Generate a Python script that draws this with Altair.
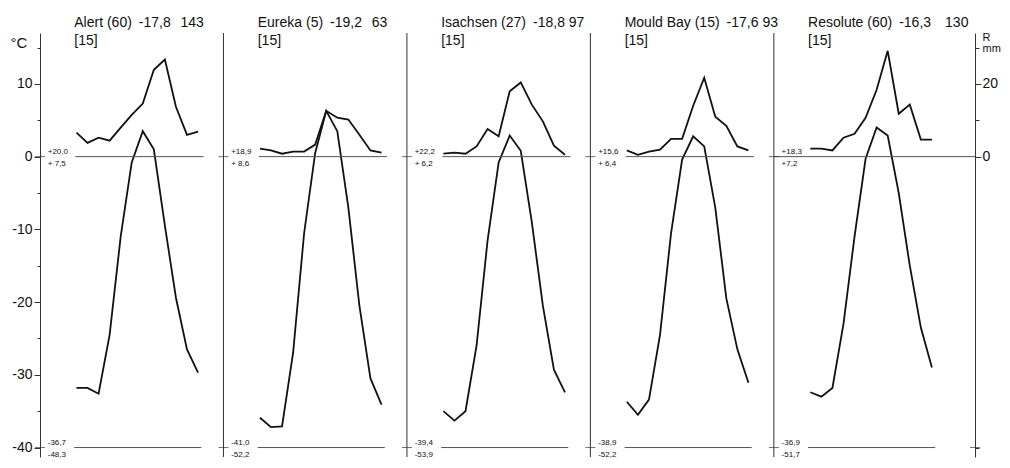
import altair as alt
import pandas as pd

# ---------------- data ----------------
stations = ["Alert", "Eureka", "Isachsen", "Mould Bay", "Resolute"]
title_line1 = [
    "Alert (60)\u2002-17,8\u2002\u2009143",
    "Eureka (5)\u2002-19,2\u2002\u200963",
    "Isachsen (27)\u2002-18,8 97",
    "Mould Bay (15)\u2002-17,6 93",
    "Resolute (60)\u2002-16,3\u2002\u2002130",
]
title_line2 = ["[15]", "[15]", "[15]", "[15]", "[15]"]

# monthly mean temperature (°C), Jan..Dec
temp_alert = [-31.8, -31.8, -32.6, -24.5, -11.0, -0.8, 3.5, 1.0, -9.5, -19.4, -26.5, -29.7]
temp_eureka = [-35.9, -37.2, -37.1, -27.0, -10.5, 0.5, 6.3, 3.5, -7.0, -20.5, -30.5, -34.1]
temp_isachsen = [-35.0, -36.3, -35.0, -26.0, -11.5, -0.8, 2.9, 0.8, -9.0, -20.5, -29.3, -32.4]
temp_mould = [-33.7, -35.5, -33.4, -24.5, -10.5, -0.4, 2.8, 1.4, -7.0, -19.5, -26.5, -31.1]
temp_resolute = [-32.4, -33.0, -31.8, -23.0, -11.0, -0.3, 4.0, 2.9, -5.0, -15.0, -23.5, -29.0]

# monthly precipitation (mm), Jan..Dec
prec_alert = [6.6, 3.8, 5.2, 4.4, 8.0, 11.5, 14.6, 23.9, 26.7, 13.7, 6.0, 6.9]
prec_eureka = [2.2, 1.7, 0.8, 1.4, 1.4, 3.3, 12.6, 10.7, 10.2, 6.0, 1.7, 1.1]
prec_isachsen = [0.8, 1.1, 0.8, 2.8, 7.6, 5.6, 18.0, 20.4, 14.3, 9.7, 3.0, 0.5]
prec_mould = [1.7, 0.5, 1.4, 1.9, 4.9, 4.9, 14.0, 21.7, 11.0, 8.5, 2.8, 1.7]
prec_resolute = [2.2, 2.2, 1.7, 5.2, 6.3, 10.7, 18.4, 29.1, 11.8, 14.3, 4.7, 4.7]

zero_top = ["+20,0", "+18,9", "+22,2", "+15,6", "+18,3"]
zero_bot = ["+ 7,5", "+ 8,6", "+ 6,2", "+ 6,4", "+7,2"]
low_top = ["-36,7", "-41,0", "-39,4", "-38,9", "-36,9"]
low_bot = ["-48,3", "-52,2", "-53,9", "-52,2", "-51,7"]

temps = [temp_alert, temp_eureka, temp_isachsen, temp_mould, temp_resolute]
precs = [prec_alert, prec_eureka, prec_isachsen, prec_mould, prec_resolute]

# ---------------- layout constants ----------------
PANEL = 16.6      # panel width in month units
FIRST = 3.3       # offset of January from panel's left edge
XMAX = 84.6
YMIN, YMAX = -41.3, 17.0
W, H = 935, 424
FONT = "Liberation Sans"
INK = "#111111"
AX = "#333333"

rows = []
for i, st in enumerate(stations):
    for m in range(12):
        x = i * PANEL + FIRST + m
        rows.append(dict(sid=st + "-T", x=x, y=temps[i][m]))
        rows.append(dict(sid=st + "-P", x=x, y=precs[i][m] / 2.0))
lines_df = pd.DataFrame(rows)

ref_rows = []
for i in range(5):
    if i == 4:
        ref_rows.append(dict(x=i * PANEL, x2=XMAX, y=0))
    else:
        ref_rows.append(dict(x=i * PANEL + 3.2, x2=i * PANEL + 14.8, y=0))
    ref_rows.append(dict(x=i * PANEL + 3.1, x2=i * PANEL + 14.6, y=-40))
ref_df = pd.DataFrame(ref_rows)

div_df = pd.DataFrame(dict(x=[i * PANEL for i in range(1, 5)]))
tick_df = pd.DataFrame(
    [dict(x=i * PANEL, y=v) for i in range(0, 5) for v in (0, -40)]
    + [dict(x=XMAX, y=-40)]
)

lab_df = pd.DataFrame(dict(
    x=[i * PANEL + 0.7 for i in range(5)],
    zt=zero_top, zb=zero_bot, lt=low_top, lb=low_bot,
    y0=[0] * 5, y40=[-40] * 5,
))
title_df = pd.DataFrame(dict(
    x=[i * PANEL + 3.1 for i in range(5)], t1=title_line1, t2=title_line2
))

xs = alt.Scale(domain=[0, XMAX], nice=False, zero=False)
ys = alt.Scale(domain=[YMIN, YMAX], nice=False, zero=False)
X = lambda f="x": alt.X(f + ":Q", scale=xs, axis=None)
Y = lambda f="y", axis=None: alt.Y(f + ":Q", scale=ys, axis=axis)

left_axis = alt.Axis(
    orient="left",
    values=list(range(-40, 20, 5)),
    labelExpr="datum.value % 10 == 0 ? toString(datum.value) : ''",
    tickSize={"condition": {"test": "datum.value % 10 == 0", "value": 6}, "value": 3},
    tickColor=AX, domainColor=AX, grid=False,
    labelFont=FONT, labelFontSize=14, labelColor=INK, labelPadding=2,
    title="°C", titleAngle=0, titleX=-30, titleY=14, titleAlign="left",
    titleBaseline="alphabetic", titleFont=FONT, titleFontSize=15,
    titleFontWeight="normal", titleColor=INK,
)
right_axis = alt.Axis(
    orient="right",
    values=[-40, 0, 5, 10, 15],
    labelExpr="datum.value == 0 ? '0' : (datum.value == 10 ? '20' : '')",
    tickSize={"condition": {"test": "datum.value == 0 || datum.value == 10", "value": 6}, "value": 4},
    tickColor=AX, domainColor=AX, grid=False,
    labelFont=FONT, labelFontSize=14, labelColor=INK, labelPadding=1,
    title=["R", "mm"], titleAngle=0, titleX=7, titleY=7, titleAlign="left",
    titleBaseline="alphabetic", titleFont=FONT, titleFontSize=11,
    titleLineHeight=11, titleFontWeight="normal", titleColor=INK,
)

lines = alt.Chart(lines_df).mark_line(color=INK, strokeWidth=1.8).encode(
    x=X(), y=Y(axis=left_axis), detail="sid:N"
)
refs = alt.Chart(ref_df).mark_rule(color="#555555", strokeWidth=1).encode(
    x=X(), x2="x2:Q", y=Y(axis=right_axis)
)
dividers = alt.Chart(div_df).mark_rule(color=AX, strokeWidth=1).encode(x=X())
ticks = alt.Chart(tick_df).mark_tick(
    orient="horizontal", size=10, thickness=1, color=AX
).encode(x=X(), y=Y())

small = dict(font=FONT, fontSize=8, color=INK, align="left")
t_zt = alt.Chart(lab_df).mark_text(baseline="bottom", dy=-1, **small).encode(
    x=X(), y=Y("y0"), text="zt:N")
t_zb = alt.Chart(lab_df).mark_text(baseline="top", dy=3, **small).encode(
    x=X(), y=Y("y0"), text="zb:N")
t_lt = alt.Chart(lab_df).mark_text(baseline="bottom", dy=-1, **small).encode(
    x=X(), y=Y("y40"), text="lt:N")
t_lb = alt.Chart(lab_df).mark_text(baseline="top", dy=3, **small).encode(
    x=X(), y=Y("y40"), text="lb:N")

big = dict(font=FONT, fontSize=14, color=INK, align="left", baseline="alphabetic")
tt1 = alt.Chart(title_df).mark_text(**big).encode(x=X(), y=alt.value(-6), text="t1:N")
tt2 = alt.Chart(title_df).mark_text(**big).encode(x=X(), y=alt.value(12), text="t2:N")

chart = (
    alt.layer(lines, refs, dividers, ticks, t_zt, t_zb, t_lt, t_lb, tt1, tt2)
    .resolve_scale(y="independent")
    .properties(
        width=W, height=H,
        autosize=alt.AutoSizeParams(type="none"),
        padding={"left": 32, "top": 25, "right": 27, "bottom": 3},
        background="white",
    )
    .configure_view(stroke=None)
)

chart.save("out.html", embed_options={"renderer": "svg", "actions": False})
